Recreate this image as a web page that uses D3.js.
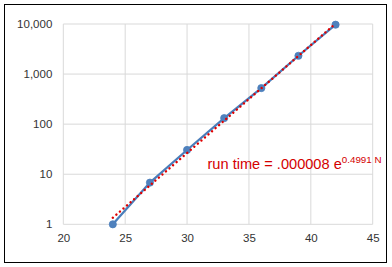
<!DOCTYPE html>
<html lang="en">
<head>
  <meta charset="UTF-8">
  <title>run time</title>
  <script src="https://cdn.jsdelivr.net/npm/d3@7/dist/d3.min.js"></script>
  <style>
    body { margin: 0; background: #fff; }
    text { font-family: "Liberation Sans", "DejaVu Sans", sans-serif; }
  </style>
</head>
<body>
<div id="grafica"></div>
<script>
// datos
const sizes = [24, 27, 30, 33, 36, 39, 42]
const runTimes = [1, 6.8, 30.5, 132, 525, 2320, 9680]
const trendX = [24, 42]
const trendY = [1.35, 10200]
const xTicks = [20, 25, 30, 35, 40, 45]
const yTicks = [1, 10, 100, 1000, 10000]
const label = 'run time = .000008 e'
const labelSup = '0.4991 N'

const ancho_total = 392
const alto_total = 267
const margin = {left: 63.3, right: 19.3, top: 24, bottom: 42.7}
const ancho = ancho_total - margin.left - margin.right
const alto = alto_total - margin.top - margin.bottom

const svg = d3.select('#grafica')
  .append('svg')
  .attr('width', ancho_total)
  .attr('height', alto_total)

// borde
svg.append('rect')
  .attr('x', 4.5).attr('y', 4.5)
  .attr('width', 382).attr('height', 258)
  .attr('fill', '#fff')
  .attr('stroke', '#000')
  .attr('stroke-width', 1)

const g = svg.append('g')
  .attr('transform', `translate(${margin.left},${margin.top})`)

const x = d3.scaleLinear().domain([20, 45]).range([0, ancho])
const y = d3.scaleLog().domain([1, 10000]).range([alto, 0])

// grid
g.selectAll('.vgrid').data(xTicks).enter().append('line')
  .attr('x1', d => x(d)).attr('x2', d => x(d))
  .attr('y1', 0).attr('y2', alto)
  .attr('stroke', '#d9d9d9').attr('stroke-width', 1)
g.selectAll('.hgrid').data(yTicks).enter().append('line')
  .attr('x1', 0).attr('x2', ancho)
  .attr('y1', d => y(d)).attr('y2', d => y(d))
  .attr('stroke', '#d9d9d9').attr('stroke-width', 1)

// ejes (solo etiquetas)
const xAxisCall = d3.axisBottom(x).tickValues(xTicks).tickSize(0).tickPadding(10)
g.append('g')
  .attr('transform', `translate(0,${alto})`)
  .call(xAxisCall)
  .call(a => a.select('.domain').remove())
  .selectAll('text')
    .attr('font-size', 11.5)
    .attr('fill', '#333')
    .style('font-family', '"Liberation Sans", sans-serif')

const yAxisCall = d3.axisLeft(y).tickValues(yTicks).tickSize(0).tickPadding(11)
  .tickFormat(d3.format(','))
g.append('g')
  .call(yAxisCall)
  .call(a => a.select('.domain').remove())
  .selectAll('text')
    .attr('font-size', 11.5)
    .attr('fill', '#333')
    .style('font-family', '"Liberation Sans", sans-serif')

// serie
const line = d3.line().x(d => x(d[0])).y(d => y(d[1]))
const pts = sizes.map((s, i) => [s, runTimes[i]])

g.append('path')
  .datum(pts)
  .attr('d', line)
  .attr('fill', 'none')
  .attr('stroke', '#4a7ebb')
  .attr('stroke-width', 2.25)

g.selectAll('circle').data(pts).enter().append('circle')
  .attr('cx', d => x(d[0]))
  .attr('cy', d => y(d[1]))
  .attr('r', 3.6)
  .attr('fill', '#4f81bd')
  .attr('stroke', '#4a7ebb')
  .attr('stroke-width', 0.75)

// tendencia
const trend = trendX.map((v, i) => [v, trendY[i]])
g.append('path')
  .datum(trend)
  .attr('d', line)
  .attr('fill', 'none')
  .attr('stroke', '#e00000')
  .attr('stroke-width', 2.4)
  .attr('stroke-linecap', 'round')
  .attr('stroke-dasharray', '0.1 4.6')

// etiqueta
const t = svg.append('text')
  .attr('x', 207.5)
  .attr('y', 169)
  .attr('fill', '#d40000')
  .attr('font-size', 14.6)
t.append('tspan').text(label)
t.append('tspan')
  .attr('dy', -5.8)
  .attr('font-size', 9.8)
  .text(labelSup)
</script>
</body>
</html>
